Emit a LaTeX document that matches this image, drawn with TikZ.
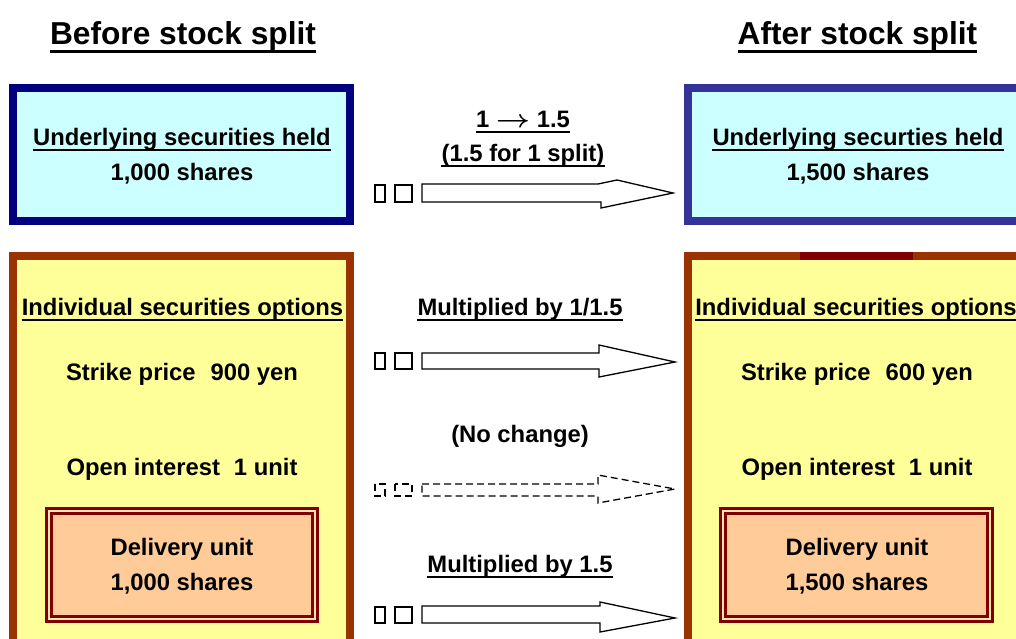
\documentclass[tikz,border=0pt]{standalone}
\usepackage{fontspec}
\setmainfont{Liberation Sans}
\definecolor{navyb}{HTML}{000080}
\definecolor{slateb}{HTML}{333399}
\definecolor{cyanf}{HTML}{CCFFFF}
\definecolor{rust}{HTML}{993300}
\definecolor{yelf}{HTML}{FFFF99}
\definecolor{maroonb}{HTML}{800000}
\definecolor{peachf}{HTML}{FFCC99}
\definecolor{creamg}{HTML}{FFE6B0}
\begin{document}
\begin{tikzpicture}[x=1pt,y=-1pt,
  txt/.style={inner sep=0pt, anchor=base, font=\fontsize{23.8}{28}\selectfont\bfseries},
  ttl/.style={inner sep=0pt, anchor=base, font=\fontsize{31.7}{36}\selectfont\bfseries},
  ul/.style={append after command={\pgfextra{\draw[line width=2pt] ([yshift=-4.5pt]\tikzlastnode.base west) -- ([yshift=-4.5pt]\tikzlastnode.base east);}}},
  ulb/.style={append after command={\pgfextra{\draw[line width=3pt] ([yshift=-6.5pt]\tikzlastnode.base west) -- ([yshift=-6.5pt]\tikzlastnode.base east);}}},
  arr/.style={draw=black, line width=1.3pt, fill=white, line join=miter},
  darr/.style={arr, dashed, dash pattern=on 7pt off 4pt},
  box/.style={line width=8pt},
  dbox/.style={draw=maroonb, line width=3pt, double=creamg, double distance=2pt, fill=peachf}
]
\useasboundingbox (0,0) rectangle (1016,639);
\clip (0,0) rectangle (1016,639);
\fill[white] (0,0) rectangle (1016,639);

% titles
\node[ttl, ulb] (tleft) at (183,45) {Before stock split};
\node[ttl, ulb] (tright) at (857.5,45) {After stock split};

% top boxes
\draw[box, draw=navyb, fill=cyanf] (13,88) rectangle (350,221);
\draw[box, draw=slateb, fill=cyanf] (688,88) rectangle (1030,221);

% bottom boxes
\draw[box, draw=rust, fill=yelf] (13,256) rectangle (350,700);
\draw[box, draw=rust, fill=yelf] (688,256) rectangle (1030,700);
\fill[maroonb] (800,252) rectangle (913,260);

% delivery boxes
\draw[dbox] (49,511) rectangle (315,619);
\draw[dbox] (723,511) rectangle (990,619);

% top box texts
\node[txt, ul] (ul1) at (182,146) {Underlying securities held};
\node[txt] (ul2) at (182,180) {1,000 shares};
\node[txt, ul] (ur1) at (858,146) {Underlying securties held};
\node[txt] (ur2) at (858,180) {1,500 shares};

% left options texts
\node[txt, ul] (ol1) at (182.5,315) {Individual securities options};
\node[txt] (ol2) at (182,380) {Strike price\hspace{15pt}900 yen};
\node[txt] (ol3) at (182,475) {Open interest\hspace{14pt}1 unit};
\node[txt] (ol4) at (182,555) {Delivery unit};
\node[txt] (ol5) at (182,590) {1,000 shares};

% right options texts
\node[txt, ul] (or1) at (856,315) {Individual securities options};
\node[txt] (or2) at (857,380) {Strike price\hspace{15pt}600 yen};
\node[txt] (or3) at (857,475) {Open interest\hspace{14pt}1 unit};
\node[txt] (or4) at (857,555) {Delivery unit};
\node[txt] (or5) at (857,590) {1,500 shares};

% middle labels
\node[txt, ul] (m1) at (523,128) {1 \scalebox{1.2}[1]{\boldmath$\rightarrow$} 1.5};
\node[txt, ul] (m2) at (523,162) {(1.5 for 1 split)};
\node[txt, ul] (m3) at (520,315) {Multiplied by 1/1.5};
\node[txt] (m4) at (520,442) {(No change)};
\node[txt, ul] (m5) at (520,572) {Multiplied by 1.5};

% arrow 1 (top)
\draw[arr] (375,185) rectangle (385,202);
\draw[arr] (395,185) rectangle (412,202);
\draw[arr] (422,184) -- (598,184) -- (617,180) -- (673,193) -- (601,208) -- (601,202) -- (422,202) -- cycle;

% arrow 2
\draw[arr] (375,353) rectangle (385,369);
\draw[arr] (395,353) rectangle (412,369);
\draw[arr] (422,353) -- (599,353) -- (599,345) -- (675,362) -- (599,377) -- (599,369) -- (422,369) -- cycle;

% arrow 3 (dashed)
\draw[darr] (375,484) rectangle (385,496);
\draw[darr] (395,484) rectangle (412,496);
\draw[darr] (422,484) -- (598,484) -- (598,475) -- (675,489) -- (598,503) -- (598,496) -- (422,496) -- cycle;

% arrow 4
\draw[arr] (375,607) rectangle (385,623);
\draw[arr] (395,607) rectangle (412,623);
\draw[arr] (422,606) -- (600,606) -- (600,602) -- (675,618) -- (600,632) -- (600,623) -- (422,623) -- cycle;
\end{tikzpicture}
\end{document}
